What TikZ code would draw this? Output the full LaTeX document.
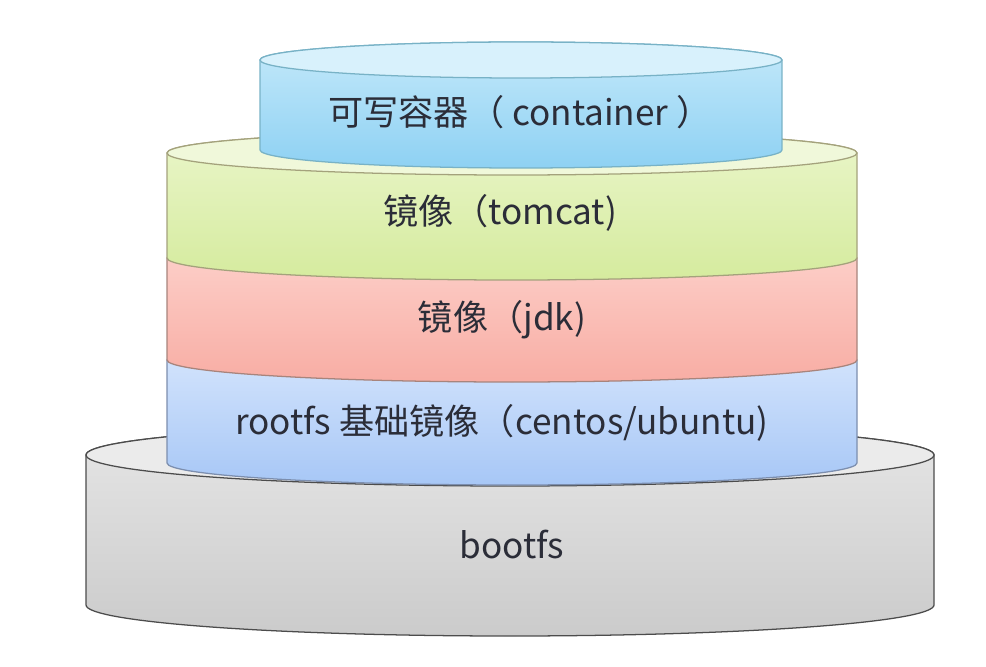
\documentclass[tikz,border=0pt]{standalone}
\usepackage{fontspec}
\setmainfont{Noto Sans CJK SC}

\definecolor{textgray}{HTML}{2B2D38}
\definecolor{contline}{HTML}{78B2C6}
\definecolor{conttop}{HTML}{D8F1FC}
\definecolor{contlight}{HTML}{C4E9FA}
\definecolor{contdark}{HTML}{8ED1F3}
\definecolor{tomline}{HTML}{A4A27C}
\definecolor{tomtop}{HTML}{F0F8DA}
\definecolor{tomlight}{HTML}{EAF6CA}
\definecolor{tomdark}{HTML}{D5EB9E}
\definecolor{jdkline}{HTML}{A8847C}
\definecolor{jdklight}{HTML}{FDD3CD}
\definecolor{jdkdark}{HTML}{F8ADA4}
\definecolor{rootline}{HTML}{7C8EAE}
\definecolor{rootlight}{HTML}{D8E7FD}
\definecolor{rootdark}{HTML}{A7C7F6}
\definecolor{bootline}{HTML}{4C4C4C}
\definecolor{boottop}{HTML}{EBEBEB}
\definecolor{bootlight}{HTML}{E6E6E6}
\definecolor{bootdark}{HTML}{CBCBCB}

\begin{document}
\begin{tikzpicture}[x=0.025cm, y=0.025cm,
		layer/.style={line width=0.9pt},
		tag/.style={font=\fontsize{25}{28}\selectfont, text=textgray}]
	\useasboundingbox (0, 0) rectangle (986, 666);

	% bootfs
	\draw[layer, draw=bootline, top color=bootlight, bottom color=bootdark]
		(86, 211) -- (86, 61) arc[start angle=180, end angle=360, x radius=424, y radius=31]
		-- (934, 211) arc[start angle=0, end angle=180, x radius=424, y radius=31] -- cycle;
	\draw[layer, draw=bootline, fill=boottop] (510, 211) ellipse[x radius=424, y radius=31];
	\node[tag] (bootfs) at (512, 121) {bootfs};

	% rootfs
	\draw[layer, draw=rootline, top color=rootlight, bottom color=rootdark]
		(167, 306) -- (167, 203) arc[start angle=180, end angle=360, x radius=345, y radius=22]
		-- (857, 306) arc[start angle=0, end angle=180, x radius=345, y radius=22] -- cycle;
	\node[tag] (rootfs) at (502, 243) {rootfs 基础镜像（centos/ubuntu)};

	% jdk
	\draw[layer, draw=jdkline, top color=jdklight, bottom color=jdkdark]
		(167, 408) -- (167, 306) arc[start angle=180, end angle=360, x radius=345, y radius=22]
		-- (857, 408) arc[start angle=0, end angle=180, x radius=345, y radius=22] -- cycle;
	\node[tag] (jdk) at (502, 346) {镜像（jdk)};

	% tomcat
	\draw[layer, draw=tomline, top color=tomlight, bottom color=tomdark]
		(167, 513) -- (167, 408) arc[start angle=180, end angle=360, x radius=345, y radius=22]
		-- (857, 513) arc[start angle=0, end angle=180, x radius=345, y radius=22] -- cycle;
	\draw[layer, draw=tomline, fill=tomtop] (512, 513) ellipse[x radius=345, y radius=22];
	\node[tag] (tomcat) at (500, 453) {镜像（tomcat)};

	% container
	\draw[layer, draw=contline, top color=contlight, bottom color=contdark]
		(260, 606) -- (260, 516) arc[start angle=180, end angle=360, x radius=261, y radius=18]
		-- (782, 606) arc[start angle=0, end angle=180, x radius=261, y radius=18] -- cycle;
	\draw[layer, draw=contline, fill=conttop] (521, 606) ellipse[x radius=261, y radius=18];
	\node[tag] (container) at (520, 554) {可写容器（ container ）};
\end{tikzpicture}
\end{document}
